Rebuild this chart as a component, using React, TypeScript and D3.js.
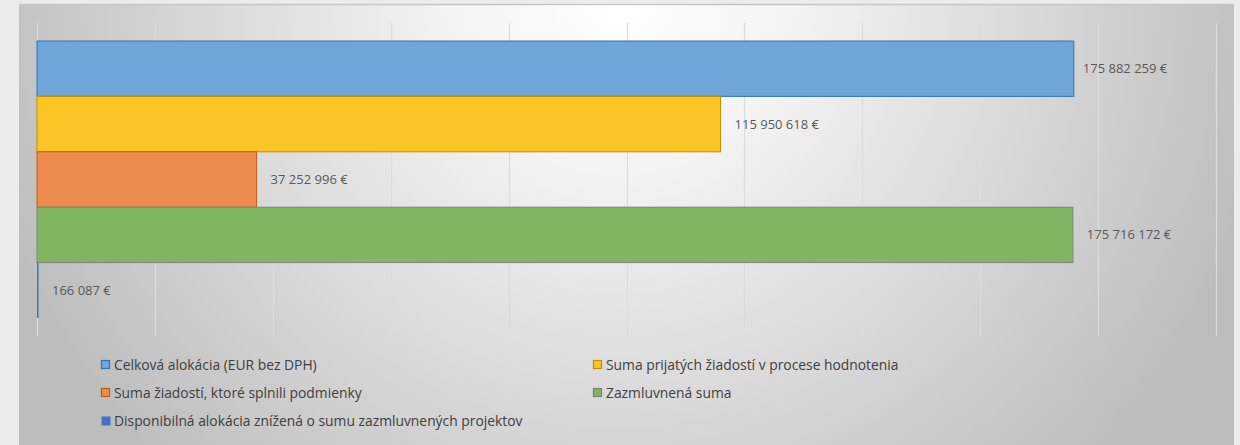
import React from "react";
import * as d3 from "d3";

const seriesNames = [
  "Celková alokácia (EUR bez DPH)",
  "Suma prijatých žiadostí v procese hodnotenia",
  "Suma žiadostí, ktoré splnili podmienky",
  "Zazmluvnená suma",
  "Disponibilná alokácia znížená o sumu zazmluvnených projektov",
];
const seriesValues = [175882259, 115950618, 37252996, 175716172, 166087];
const seriesFill = ["#6fa6da", "#fcc526", "#ec8c4f", "#80b562", "#4472c4"];
const seriesStroke = ["#2e75b6", "#bf9000", "#c55a11", "#808080", "#2e75b6"];
const xTicks = [0, 20e6, 40e6, 60e6, 80e6, 100e6, 120e6, 140e6, 160e6, 180e6, 200e6];
// legend order (two columns, row-major)
const legendOrder = [0, 1, 2, 3, 4];

const W = 1240;
const H = 445;
const FONT = "'Open Sans', 'Liberation Sans', sans-serif";

function fmt(v: number) {
  const s = Math.round(v).toString().replace(/\B(?=(\d{3})+(?!\d))/g, " ");
  return s + " €";
}

export default function App() {
  const x = d3.scaleLinear().domain([0, 200e6]).range([37, 1216]);
  const y = d3
    .scaleBand<string>()
    .domain(seriesNames)
    .range([23, 336])
    .paddingInner(0)
    .paddingOuter(0.325);
  const bh = y.bandwidth();

  const legendCols = [101, 593];
  const legendRows = [365, 393, 421];

  return (
    <div style={{ position: "absolute", left: 0, top: 0, width: W, height: H }}>
      <svg width={W} height={H} style={{ display: "block" }}>
        <defs>
          <radialGradient
            id="bg"
            gradientUnits="userSpaceOnUse"
            cx={620}
            cy={0}
            r={660}
            fx={620}
            fy={0}
          >
            <stop offset="0" stopColor="#ffffff" />
            <stop offset="0.25" stopColor="#f4f4f4" />
            <stop offset="1" stopColor="#bdbdbd" />
          </radialGradient>
        </defs>
        <rect x={0} y={0} width={W} height={H} fill="#ececec" />
        <rect x={19} y={5} width={1215} height={H} fill="url(#bg)" />
        <line x1={19} x2={1234} y1={4.5} y2={4.5} stroke="#c6c6c6" strokeWidth={1.5} />

        {/* gridlines */}
        {xTicks.map((t) => (
          <line
            key={t}
            x1={Math.round(x(t)) + 0.5}
            x2={Math.round(x(t)) + 0.5}
            y1={23}
            y2={336}
            stroke="#dcdcdc"
            strokeWidth={1.2}
          />
        ))}

        {/* bars */}
        {seriesNames.map((name, i) => {
          const x0 = x(0);
          const x1 = x(seriesValues[i]);
          const y0 = y(name)!;
          const w = Math.max(x1 - x0, 0);
          return (
            <g key={name}>
              {w > 2 ? (
                <rect
                  x={x0}
                  y={y0}
                  width={w}
                  height={bh}
                  fill={seriesFill[i]}
                  stroke={seriesStroke[i]}
                  strokeWidth={1}
                />
              ) : (
                <rect x={x0} y={y0} width={1.5} height={bh} fill="#2e7bc9" />
              )}
              <text
                x={x1 + (i === 0 ? 9 : 14)}
                y={y0 + bh / 2}
                dy="0.35em"
                fontFamily={FONT}
                fontSize={13}
                fill="#595959"
              >
                {fmt(seriesValues[i])}
              </text>
            </g>
          );
        })}

        {/* legend */}
        {legendOrder.map((si, k) => {
          const col = k % 2;
          const row = Math.floor(k / 2);
          const lx = legendCols[col];
          const ly = legendRows[row];
          const hasBorder = si !== 4;
          return (
            <g key={si}>
              <rect
                x={lx + 0.5}
                y={ly - 4.5}
                width={hasBorder ? 8 : 9}
                height={hasBorder ? 8 : 9}
                fill={seriesFill[si]}
                stroke={hasBorder ? seriesStroke[si] : "none"}
                strokeWidth={1.2}
              />
              <text
                x={lx + 13}
                y={ly}
                dy="0.35em"
                fontFamily={FONT}
                fontSize={13.85}
                fill="#404040"
              >
                {seriesNames[si]}
              </text>
            </g>
          );
        })}
      </svg>
    </div>
  );
}
